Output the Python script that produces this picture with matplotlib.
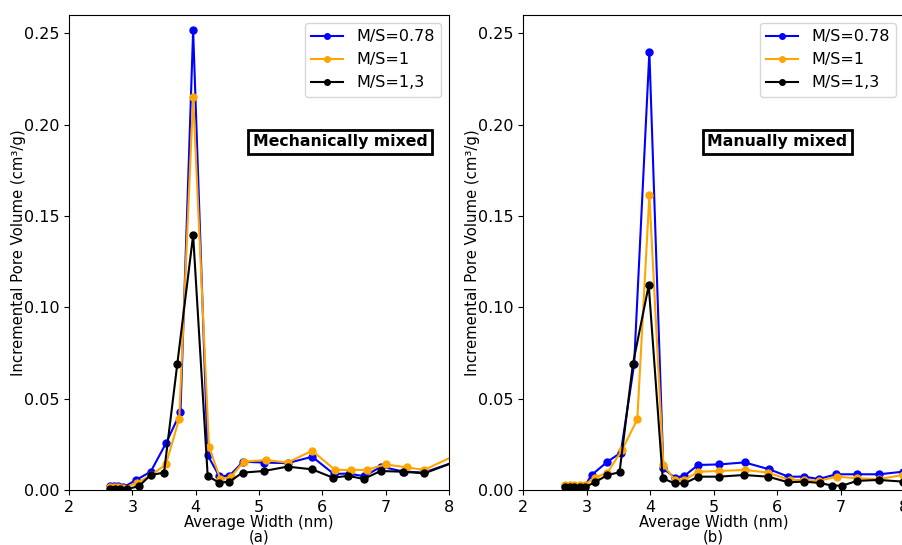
import matplotlib.pyplot as plt

plt.rcParams['font.family'] = 'DejaVu Sans'
plt.rcParams['font.size'] = 11.5

labels = ['M/S=0.78', 'M/S=1', 'M/S=1,3']
colors = ['blue', 'orange', 'black']

# (a) mechanically mixed
a_x_blue = [2.64, 2.71, 2.78, 2.86, 3.06, 3.29, 3.53, 3.76, 3.96, 4.19, 4.37, 4.53,
            4.75, 5.08, 5.45, 5.84, 6.18, 6.42, 6.66, 6.93, 7.29, 7.61, 8.1]
a_y_blue = [0.002, 0.002, 0.002, 0.0015, 0.0055, 0.010, 0.0255, 0.0425, 0.2516, 0.019, 0.0077, 0.0077,
            0.0155, 0.015, 0.0147, 0.0182, 0.0088, 0.009, 0.0075, 0.0128, 0.010, 0.0096, 0.0155]
a_x_orange = [2.64, 2.71, 2.78, 2.86, 3.08, 3.29, 3.53, 3.74, 3.96, 4.21, 4.39, 4.55,
              4.76, 5.11, 5.45, 5.84, 6.2, 6.46, 6.7, 7.0, 7.33, 7.61, 8.1]
a_y_orange = [0.0015, 0.0015, 0.0015, 0.001, 0.004, 0.008, 0.014, 0.039, 0.2152, 0.0237, 0.006, 0.007,
              0.0155, 0.0164, 0.015, 0.0215, 0.011, 0.011, 0.011, 0.014, 0.0124, 0.011, 0.019]
a_x_black = [2.64, 2.73, 2.81, 2.91, 3.1, 3.29, 3.5, 3.71, 3.96, 4.19, 4.37, 4.53,
             4.74, 5.08, 5.45, 5.84, 6.17, 6.41, 6.65, 6.92, 7.28, 7.61, 8.1]
a_y_black = [0.0005, 0.0005, 0.0005, 0.0005, 0.002, 0.0082, 0.0095, 0.069, 0.1395, 0.0077, 0.004, 0.0045,
             0.0095, 0.0104, 0.0128, 0.0113, 0.0067, 0.0078, 0.006, 0.0104, 0.010, 0.0091, 0.0155]

# (b) manually mixed
b_x_blue = [2.66, 2.74, 2.81, 2.89, 2.97, 3.08, 3.33, 3.54, 3.75, 3.99, 4.21, 4.39, 4.54,
            4.76, 5.09, 5.49, 5.88, 6.18, 6.43, 6.66, 6.93, 7.26, 7.61, 7.98, 8.1]
b_y_blue = [0.002, 0.002, 0.002, 0.002, 0.002, 0.0082, 0.0155, 0.0204, 0.0688, 0.2398, 0.0118, 0.0067, 0.0078,
            0.0137, 0.014, 0.0151, 0.0113, 0.0073, 0.0073, 0.006, 0.0086, 0.0086, 0.0086, 0.010, 0.0105]
b_x_orange = [2.66, 2.74, 2.81, 2.89, 2.97, 3.13, 3.33, 3.56, 3.8, 3.99, 4.21, 4.39, 4.54,
              4.76, 5.09, 5.49, 5.86, 6.2, 6.43, 6.66, 6.94, 7.26, 7.61, 7.98, 8.1]
b_y_orange = [0.003, 0.003, 0.003, 0.003, 0.003, 0.0067, 0.0095, 0.0219, 0.0387, 0.1614, 0.0137, 0.0055, 0.0055,
              0.010, 0.0104, 0.011, 0.0095, 0.0055, 0.0055, 0.005, 0.0073, 0.0064, 0.006, 0.0082, 0.0085]
b_x_black = [2.66, 2.74, 2.81, 2.89, 2.97, 3.13, 3.33, 3.52, 3.73, 3.98, 4.2, 4.39, 4.54,
             4.76, 5.08, 5.48, 5.86, 6.18, 6.43, 6.68, 6.87, 7.03, 7.26, 7.61, 7.98]
b_y_black = [0.0015, 0.0015, 0.0015, 0.0015, 0.0015, 0.0042, 0.0082, 0.0097, 0.0688, 0.1121, 0.0064, 0.0036, 0.0036,
             0.0073, 0.0073, 0.0082, 0.0073, 0.0042, 0.0046, 0.0038, 0.0024, 0.0024, 0.005, 0.0055, 0.0046]

panels = [
    ([(a_x_blue, a_y_blue), (a_x_orange, a_y_orange), (a_x_black, a_y_black)],
     'Mechanically mixed', 0.713, '(a)', [69 / 902, 55 / 545, 380 / 902, 475 / 545]),
    ([(b_x_blue, b_y_blue), (b_x_orange, b_y_orange), (b_x_black, b_y_black)],
     'Manually mixed', 0.668, '(b)', [523 / 902, 55 / 545, 381 / 902, 475 / 545]),
]

fig = plt.figure(figsize=(9.02, 5.45), dpi=100)

for series, name, tx, tag, rect in panels:
    ax = fig.add_axes(rect)
    for (x, y), lab, c in zip(series, labels, colors):
        ax.plot(x, y, '-o', color=c, label=lab, markersize=5, linewidth=1.5)
    ax.set_xlim(2, 8)
    ax.set_ylim(0, 0.26)
    ax.set_xticks(range(2, 9))
    ax.set_yticks([0, 0.05, 0.10, 0.15, 0.20, 0.25])
    ax.set_yticklabels(['0.00', '0.05', '0.10', '0.15', '0.20', '0.25'])
    ax.set_xlabel('Average Width (nm)\n' + tag, fontsize=10.7, labelpad=0, linespacing=1.0)
    ax.set_ylabel('Incremental Pore Volume (cm³/g)', fontsize=10.7, labelpad=-2)
    ax.legend(loc='upper right', markerscale=0.8)
    ax.text(tx, 0.733, name, transform=ax.transAxes, ha='center', va='center',
            fontweight='bold', fontsize=11.3,
            bbox=dict(boxstyle='square,pad=0.3', facecolor='white', edgecolor='black', linewidth=2))

fig.savefig('out.png', dpi=100)
